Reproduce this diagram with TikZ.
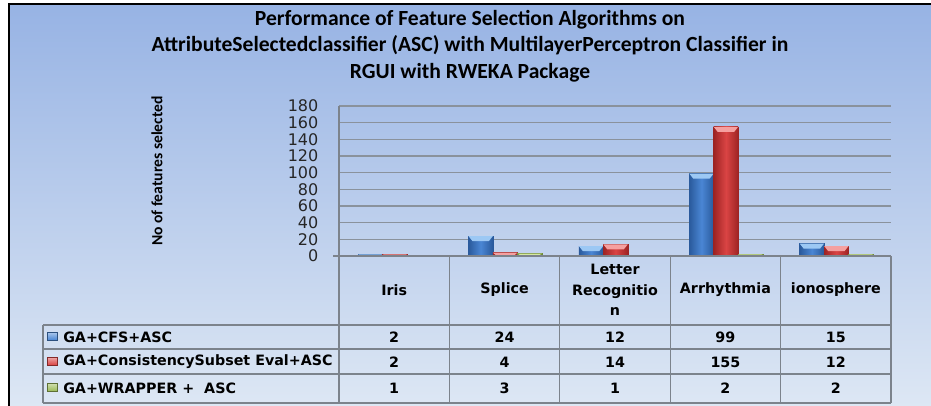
\documentclass[tikz,border=0pt]{standalone}
\usepackage{fontspec}
\setmainfont{DejaVu Sans}
\newfontfamily\titlefont{Carlito}

\definecolor{bgtop}{HTML}{97B3E4}
\definecolor{bgbottom}{HTML}{DDE7F4}
\definecolor{gridgray}{HTML}{8A929C}
\definecolor{cfsblue}{HTML}{4A86D4}
\definecolor{cfsdark}{HTML}{2A5A9C}
\definecolor{cfslight}{HTML}{9CC8F4}
\definecolor{conred}{HTML}{DA4444}
\definecolor{condark}{HTML}{9E2424}
\definecolor{conlight}{HTML}{F5A0A0}
\definecolor{wrapgreen}{HTML}{9CBB58}
\definecolor{wrapdark}{HTML}{6E8A36}
\definecolor{wraplight}{HTML}{D4E8A0}

% one bar: style, left x, value, bevel colour
\newcommand{\chartbar}[4]{%
  \pgfmathsetmacro{\bartop}{256-#3*0.83333}
  \pgfmathsetmacro{\bevel}{min(5,#3*0.83333)}
  \draw[#1] (#2,256) rectangle ({#2+24.5},\bartop);
  \fill[#4] (#2,\bartop) -- ({#2+24.5},\bartop) -- ({#2+20.5},\bartop+\bevel) -- ({#2+4},\bartop+\bevel) -- cycle;
}

\begin{document}
\begin{tikzpicture}[
        x=0.75pt, y=-0.75pt,
        cfsbar/.style={left color=cfsdark, right color=cfsdark, middle color=cfsblue, draw=cfsdark, line width=0.3pt},
        conbar/.style={left color=condark, right color=condark, middle color=conred, draw=condark, line width=0.3pt},
        wrapbar/.style={left color=wrapdark, right color=wrapdark, middle color=wrapgreen, draw=wrapdark, line width=0.3pt},
        gridline/.style={draw=gridgray, line width=0.8pt},
        tableline/.style={draw=gridgray!90!black, line width=0.8pt},
        ticklabel/.style={anchor=east, font=\fontsize{12}{14}\selectfont, text=black!85},
        cell/.style={align=center, font=\bfseries\fontsize{10.7}{15.5}\selectfont, inner sep=0pt},
        legendtext/.style={anchor=west, font=\bfseries\fontsize{10.7}{12}\selectfont, inner sep=0pt},
        legendmark/.style={draw=#1!60!black, top color=#1!45!white, bottom color=#1, minimum width=7.5pt, minimum height=6pt, inner sep=0pt}
    ]
    \useasboundingbox (0,0) rectangle (931,406);

    % Background and frame
    \shade[top color=bgtop, bottom color=bgbottom] (9,4) rectangle (931,406);
    \draw[black, line width=1.6pt] (9,406) -- (9,4) -- (931,4);

    % Title
    \node[align=center, font=\titlefont\bfseries\fontsize{16.2}{19.9}\selectfont] (title) at (470,46)
        {Performance of Feature Selection Algorithms on\\AttributeSelectedclassifier (ASC) with MultilayerPerceptron Classifier in\\RGUI with RWEKA Package};
    \node[rotate=90, font=\titlefont\bfseries\fontsize{11.7}{13}\selectfont] (ylabel) at (157,171) {No of features selected};

    % Grid lines and ticks
    \foreach \v in {20,40,...,180}
        \draw[gridline] (339,{256-\v*0.83333}) -- (891,{256-\v*0.83333});
    \foreach \v in {0,20,...,180}
        \node[ticklabel] (tick\v) at (323,{256-\v*0.83333}) {\v};
    \draw[tableline] (339,106) -- (339,256);

    % Bars
    \chartbar{cfsbar}{358}{2}{cfslight}
    \chartbar{conbar}{382.5}{2}{conlight}
    \chartbar{wrapbar}{407}{1}{wraplight}
    \chartbar{cfsbar}{468.4}{24}{cfslight}
    \chartbar{conbar}{492.9}{4}{conlight}
    \chartbar{wrapbar}{517.4}{3}{wraplight}
    \chartbar{cfsbar}{578.8}{12}{cfslight}
    \chartbar{conbar}{603.3}{14}{conlight}
    \chartbar{wrapbar}{627.8}{1}{wraplight}
    \chartbar{cfsbar}{689.2}{99}{cfslight}
    \chartbar{conbar}{713.7}{155}{conlight}
    \chartbar{wrapbar}{738.2}{2}{wraplight}
    \chartbar{cfsbar}{799.6}{15}{cfslight}
    \chartbar{conbar}{824.1}{12}{conlight}
    \chartbar{wrapbar}{848.6}{2}{wraplight}

    % Data table
    \draw[tableline] (333,256) -- (891,256);
    \draw[tableline] (43,325) -- (891,325);
    \draw[tableline] (43,349) -- (891,349);
    \draw[tableline] (43,374) -- (891,374);
    \draw[tableline] (43,403) -- (891,403);
    \draw[tableline] (43,325) -- (43,403);
    \draw[tableline] (339,256) -- (339,403);
    \draw[tableline] (449.4,256) -- (449.4,403);
    \draw[tableline] (559.8,256) -- (559.8,403);
    \draw[tableline] (670.2,256) -- (670.2,403);
    \draw[tableline] (780.6,256) -- (780.6,403);
    \draw[tableline] (891,256) -- (891,403);

    % Column heads
    \node[cell] (iris) at (394.2,290) {Iris};
    \node[cell] (splice) at (504.6,290) {Splice};
    \node[cell] (letter) at (615,290) {Letter\\Recognitio\\n};
    \node[cell] (arrhythmia) at (725.4,290) {Arrhythmia};
    \node[cell] (ionosphere) at (835.8,290) {ionosphere};

    % Legend column
    \node[legendmark=cfsblue] (cfs-mark) at (52,336) {};
    \node[legendtext] (cfs) at (63,337) {GA+CFS+ASC};
    \node[legendmark=conred] (con-mark) at (52,361) {};
    \node[legendtext] (con) at (63,362) {GA+ConsistencySubset Eval+ASC};
    \node[legendmark=wrapgreen] (wrap-mark) at (52,387) {};
    \node[legendtext] (wrap) at (63,388) {GA+WRAPPER +\ \ ASC};

    % Values
    \node[cell] (iris-cfs) at (394.2,337) {2};
    \node[cell] (splice-cfs) at (504.6,337) {24};
    \node[cell] (letter-cfs) at (615,337) {12};
    \node[cell] (arrhythmia-cfs) at (725.4,337) {99};
    \node[cell] (ionosphere-cfs) at (835.8,337) {15};
    \node[cell] (iris-con) at (394.2,362) {2};
    \node[cell] (splice-con) at (504.6,362) {4};
    \node[cell] (letter-con) at (615,362) {14};
    \node[cell] (arrhythmia-con) at (725.4,362) {155};
    \node[cell] (ionosphere-con) at (835.8,362) {12};
    \node[cell] (iris-wrap) at (394.2,388) {1};
    \node[cell] (splice-wrap) at (504.6,388) {3};
    \node[cell] (letter-wrap) at (615,388) {1};
    \node[cell] (arrhythmia-wrap) at (725.4,388) {2};
    \node[cell] (ionosphere-wrap) at (835.8,388) {2};

\end{tikzpicture}
\end{document}
